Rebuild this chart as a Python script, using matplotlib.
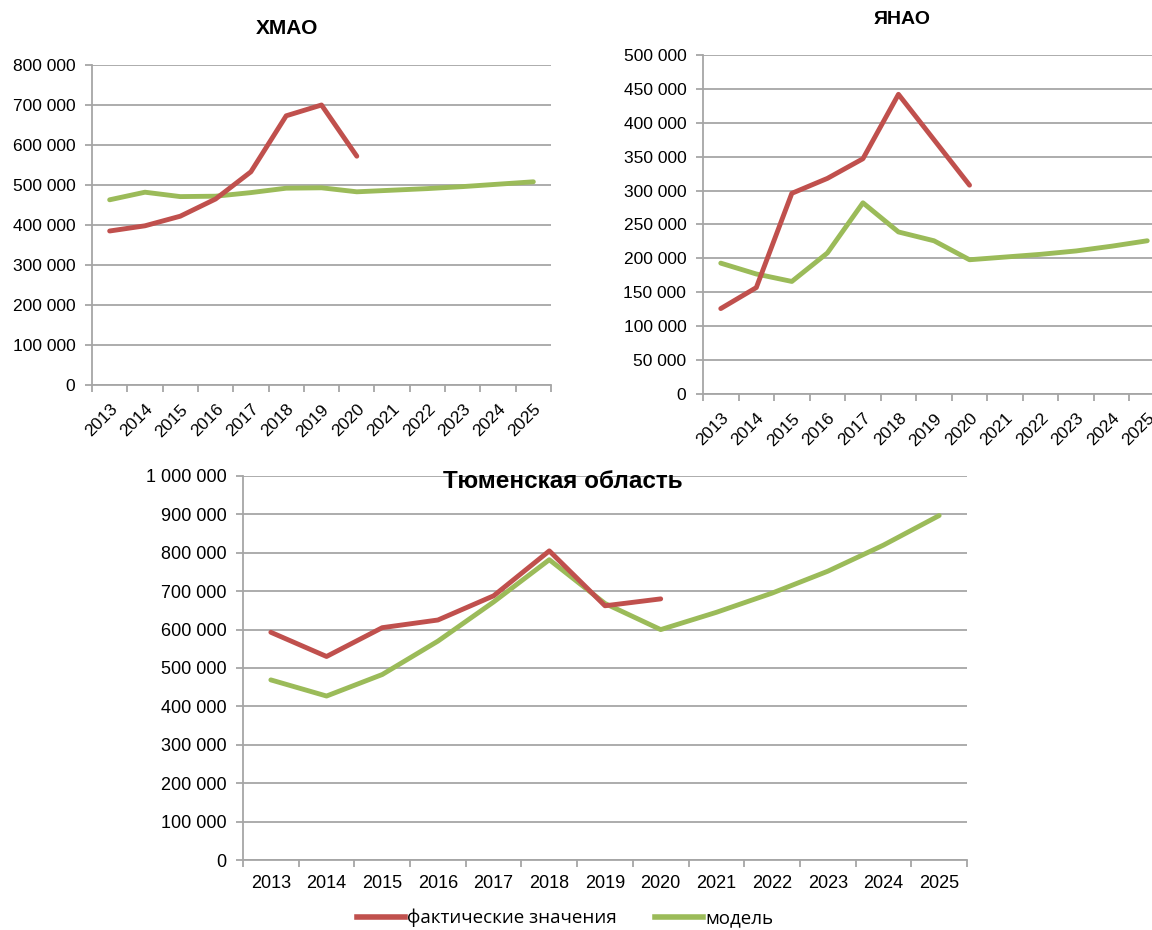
import matplotlib.pyplot as plt
from matplotlib.ticker import FuncFormatter
from matplotlib.lines import Line2D

years = [str(y) for y in range(2013, 2026)]

hmao_fact = [385000, 398000, 422000, 465000, 533000, 673000, 700000, 572000]
hmao_model = [463000, 482000, 471000, 472000, 481000, 492000, 493000, 483000,
              487000, 491000, 496000, 502000, 508000]

yanao_fact = [126000, 157000, 296000, 318000, 347000, 442000, 375000, 308000]
yanao_model = [193000, 177000, 166000, 208000, 282000, 239000, 226000, 198000,
               202000, 206000, 211000, 218000, 226000]

tum_fact = [593000, 530000, 605000, 625000, 688000, 805000, 662000, 680000]
tum_model = [469000, 427000, 483000, 570000, 672000, 782000, 668000, 600000,
             645000, 695000, 752000, 820000, 897000]

RED = "#C0504D"
GREEN = "#9BBB59"
GRID = "#A6A6A6"

plt.rcParams['font.family'] = ['Liberation Sans', 'DejaVu Sans']

W, H = 1152, 930
fig = plt.figure(figsize=(W / 100, H / 100), dpi=100)


def box(x0, x1, ytop, ybot):
    return [x0 / W, 1 - ybot / H, (x1 - x0) / W, (ybot - ytop) / H]


def fmt(v, pos):
    return "{:,}".format(int(v)).replace(",", " ")


def panel(rect, fact, model, ymax, step, rotate, fsize):
    ax = fig.add_axes(rect)
    n = len(years)
    xs_f = [i + 0.5 for i in range(len(fact))]
    xs_m = [i + 0.5 for i in range(len(model))]
    ax.plot(xs_m, model, color=GREEN, lw=3.5, solid_capstyle='round')
    ax.plot(xs_f, fact, color=RED, lw=3.5, solid_capstyle='round')
    ax.set_xlim(0, n)
    ax.set_ylim(0, ymax)
    ax.set_yticks(range(0, ymax + 1, step))
    ax.yaxis.set_major_formatter(FuncFormatter(fmt))
    ax.yaxis.grid(True, color=GRID, lw=1.3)
    ax.set_axisbelow(True)
    ax.set_xticks(range(n + 1))
    ax.set_xticklabels([])
    ax.set_xticks([i + 0.5 for i in range(n)], minor=True)
    if rotate:
        ax.set_xticklabels(years, minor=True, rotation=45, ha='right',
                           rotation_mode='anchor', fontsize=fsize)
        ax.tick_params(axis='x', which='minor', length=0, pad=12)
    else:
        ax.set_xticklabels(years, minor=True, fontsize=fsize)
        ax.tick_params(axis='x', which='minor', length=0, pad=11)
    ax.tick_params(axis='x', which='major', length=5, color=GRID, width=1.3)
    ax.tick_params(axis='y', length=5, color=GRID, width=1.3, labelsize=fsize, pad=7)
    for s in ['top', 'right']:
        ax.spines[s].set_visible(False)
    for s in ['left', 'bottom']:
        ax.spines[s].set_color(GRID)
        ax.spines[s].set_linewidth(1.3)
    return ax


ax1 = panel(box(92, 551, 65, 385), hmao_fact, hmao_model, 800000, 100000, True, 12.5)
fig.text(287 / W, 1 - 28 / H, "ХМАО", ha='center', va='center',
         fontsize=15, fontweight='bold')

ax2 = panel(box(703, 1165, 55, 394), yanao_fact, yanao_model, 500000, 50000, True, 12.5)
fig.text(902 / W, 1 - 20 / H, "ЯНАО", ha='center', va='center',
         fontsize=14, fontweight='bold')

ax3 = panel(box(243, 967, 476, 860), tum_fact, tum_model, 1000000, 100000, False, 13)
fig.text(563 / W, 1 - 481 / H, "Тюменская область", ha='center', va='center',
         fontsize=17.5, fontweight='bold')

handles = [Line2D([], [], color=RED, lw=4), Line2D([], [], color=GREEN, lw=4)]
fig.legend(handles, ["фактические значения", "модель"], loc='center',
           bbox_to_anchor=(565 / W, 1 - 918 / H), ncol=2, frameon=False,
           prop={'family': ['Open Sans', 'DejaVu Sans'], 'size': 13.5},
           handlelength=2.6, handletextpad=0.1, columnspacing=2.0)

fig.savefig("out.png", dpi=100)
